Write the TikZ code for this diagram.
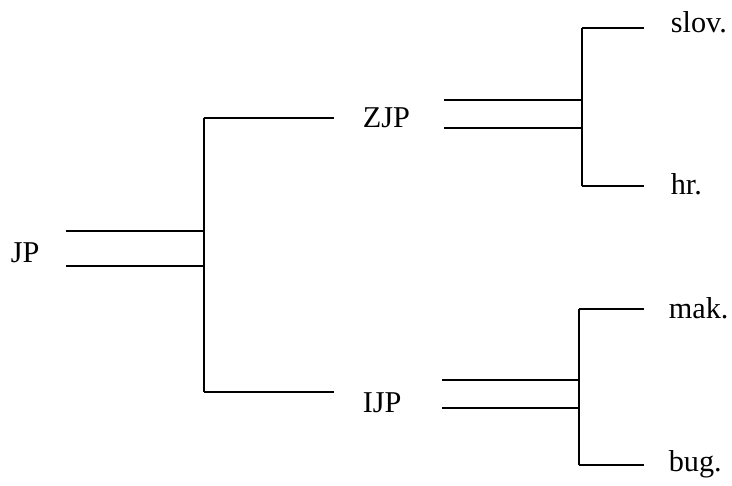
\documentclass[tikz,border=0pt]{standalone}
\usepackage{fontspec}
\setmainfont{Liberation Serif}
\usetikzlibrary{positioning}

\begin{document}
\begin{tikzpicture}[x=0.025cm, y=-0.025cm, line width=1.2pt,
  lbl/.style={anchor=base west, inner sep=0pt, font=\fontsize{21.5}{26}\selectfont}]
  \useasboundingbox (0,0) rectangle (732,486);

  % Labels
  \node[lbl] (JP) at (10,262) {JP};
  \node[lbl] (ZJP) at (362,128) {ZJP};
  \node[lbl] (IJP) at (362,412) {IJP};
  \node[lbl] (slov) at (670,33) {slov.};
  \node[lbl] (hr) at (670,194) {hr.};
  \node[lbl] (mak) at (668,318) {mak.};
  \node[lbl] (bug) at (668,471) {bug.};

  % Forks
  \coordinate (f0a) at (204,118);  \coordinate (f0b) at (204,392);
  \coordinate (f1a) at (582,28);   \coordinate (f1b) at (582,186);
  \coordinate (f2a) at (579,309);  \coordinate (f2b) at (579,465);

  % JP
  \draw (66,231) -- (f0a |- 0,231);
  \draw (66,266) -- (f0a |- 0,266);
  \draw (f0a) -- (f0b);
  \draw (f0a) -- (334,118);
  \draw (f0b) -- (334,392);

  % ZJP
  \draw (444,100) -- (f1a |- 0,100);
  \draw (444,128) -- (f1a |- 0,128);
  \draw (f1a) -- (f1b);
  \draw (f1a) -- (644,28);
  \draw (f1b) -- (644,186);

  % IJP
  \draw (442,380) -- (f2a |- 0,380);
  \draw (442,408) -- (f2a |- 0,408);
  \draw (f2a) -- (f2b);
  \draw (f2a) -- (644,309);
  \draw (f2b) -- (644,465);
\end{tikzpicture}
\end{document}
